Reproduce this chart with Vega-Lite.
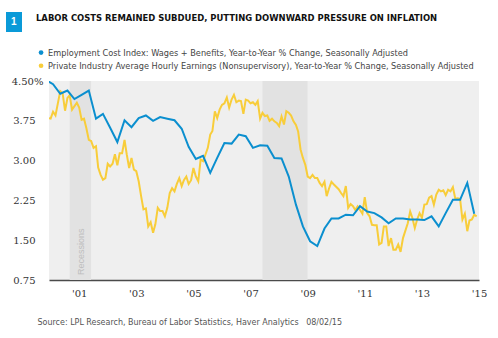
{
  "$schema": "https://vega.github.io/schema/vega-lite/v6.json",
  "width": 430,
  "height": 199,
  "autosize": "none",
  "padding": {"left": 49, "top": 81, "right": 19, "bottom": 58},
  "background": "white",
  "title": {
    "text": "LABOR COSTS REMAINED SUBDUED, PUTTING DOWNWARD PRESSURE ON INFLATION",
    "anchor": "start",
    "frame": "group",
    "orient": "top",
    "offset": 0,
    "dx": -13,
    "dy": 11,
    "font": "DejaVu Sans Condensed",
    "fontSize": 9.4,
    "fontWeight": "bold",
    "color": "#111111"
  },
  "datasets": {
    "eci": [
      {"date": "2000-05-01", "v": 4.52},
      {"date": "2000-08-01", "v": 4.44},
      {"date": "2000-11-01", "v": 4.26},
      {"date": "2001-02-01", "v": 4.32},
      {"date": "2001-05-01", "v": 4.16},
      {"date": "2001-08-01", "v": 4.24},
      {"date": "2001-11-01", "v": 4.32},
      {"date": "2002-02-01", "v": 3.79},
      {"date": "2002-05-01", "v": 3.88},
      {"date": "2002-08-01", "v": 3.62},
      {"date": "2002-11-01", "v": 3.35},
      {"date": "2003-02-01", "v": 3.76},
      {"date": "2003-05-01", "v": 3.63},
      {"date": "2003-08-01", "v": 3.80},
      {"date": "2003-11-01", "v": 3.85},
      {"date": "2004-02-01", "v": 3.75},
      {"date": "2004-05-01", "v": 3.82},
      {"date": "2004-08-01", "v": 3.79},
      {"date": "2004-11-01", "v": 3.76},
      {"date": "2005-02-01", "v": 3.60},
      {"date": "2005-05-01", "v": 3.26},
      {"date": "2005-08-01", "v": 3.03},
      {"date": "2005-11-01", "v": 3.09},
      {"date": "2006-02-01", "v": 2.77},
      {"date": "2006-05-01", "v": 3.05},
      {"date": "2006-08-01", "v": 3.33},
      {"date": "2006-11-01", "v": 3.32},
      {"date": "2007-02-01", "v": 3.49},
      {"date": "2007-05-01", "v": 3.46},
      {"date": "2007-08-01", "v": 3.24},
      {"date": "2007-11-01", "v": 3.29},
      {"date": "2008-02-01", "v": 3.28},
      {"date": "2008-05-01", "v": 3.05},
      {"date": "2008-08-01", "v": 3.04},
      {"date": "2008-11-01", "v": 2.70},
      {"date": "2009-02-01", "v": 2.17},
      {"date": "2009-05-01", "v": 1.76},
      {"date": "2009-08-01", "v": 1.48},
      {"date": "2009-11-01", "v": 1.39},
      {"date": "2010-02-01", "v": 1.72},
      {"date": "2010-05-01", "v": 1.91},
      {"date": "2010-08-01", "v": 1.91},
      {"date": "2010-11-01", "v": 1.98},
      {"date": "2011-02-01", "v": 1.97},
      {"date": "2011-05-01", "v": 2.14},
      {"date": "2011-08-01", "v": 2.04},
      {"date": "2011-11-01", "v": 2.01},
      {"date": "2012-02-01", "v": 1.93},
      {"date": "2012-05-01", "v": 1.82},
      {"date": "2012-08-01", "v": 1.91},
      {"date": "2012-11-01", "v": 1.91},
      {"date": "2013-02-01", "v": 1.89},
      {"date": "2013-05-01", "v": 1.89},
      {"date": "2013-08-01", "v": 1.88},
      {"date": "2013-11-01", "v": 1.95},
      {"date": "2014-02-01", "v": 1.76},
      {"date": "2014-05-01", "v": 2.01},
      {"date": "2014-08-01", "v": 2.26},
      {"date": "2014-11-01", "v": 2.26},
      {"date": "2015-02-01", "v": 2.58},
      {"date": "2015-05-01", "v": 2.00}
    ],
    "ahe": [
      {"date": "2000-06-01", "v": 3.80},
      {"date": "2000-07-01", "v": 3.79},
      {"date": "2000-08-01", "v": 3.92},
      {"date": "2000-09-01", "v": 3.85},
      {"date": "2000-11-01", "v": 4.31},
      {"date": "2000-12-01", "v": 4.27},
      {"date": "2001-01-01", "v": 3.94},
      {"date": "2001-02-01", "v": 4.18},
      {"date": "2001-03-01", "v": 4.23},
      {"date": "2001-04-01", "v": 3.96},
      {"date": "2001-06-01", "v": 4.09},
      {"date": "2001-07-01", "v": 4.00},
      {"date": "2001-08-01", "v": 3.77},
      {"date": "2001-09-01", "v": 3.79},
      {"date": "2001-10-01", "v": 3.61},
      {"date": "2001-11-01", "v": 3.39},
      {"date": "2001-12-01", "v": 3.37},
      {"date": "2002-01-01", "v": 3.24},
      {"date": "2002-02-01", "v": 3.27},
      {"date": "2002-03-01", "v": 2.87},
      {"date": "2002-04-01", "v": 2.73},
      {"date": "2002-05-01", "v": 2.64},
      {"date": "2002-06-01", "v": 2.67},
      {"date": "2002-07-01", "v": 2.94},
      {"date": "2002-08-01", "v": 2.89},
      {"date": "2002-09-01", "v": 2.94},
      {"date": "2002-10-01", "v": 3.12},
      {"date": "2002-11-01", "v": 2.91},
      {"date": "2002-12-01", "v": 3.14},
      {"date": "2003-01-01", "v": 3.14},
      {"date": "2003-02-01", "v": 3.39},
      {"date": "2003-03-01", "v": 3.12},
      {"date": "2003-04-01", "v": 2.86},
      {"date": "2003-05-01", "v": 3.05},
      {"date": "2003-06-01", "v": 2.83},
      {"date": "2003-07-01", "v": 2.80},
      {"date": "2003-08-01", "v": 2.61},
      {"date": "2003-09-01", "v": 2.33},
      {"date": "2003-10-01", "v": 2.08},
      {"date": "2003-11-01", "v": 2.10},
      {"date": "2003-12-01", "v": 1.76},
      {"date": "2004-01-01", "v": 1.84},
      {"date": "2004-02-01", "v": 1.64},
      {"date": "2004-03-01", "v": 1.80},
      {"date": "2004-04-01", "v": 2.11},
      {"date": "2004-05-01", "v": 2.05},
      {"date": "2004-06-01", "v": 2.05},
      {"date": "2004-07-01", "v": 1.95},
      {"date": "2004-08-01", "v": 2.11},
      {"date": "2004-09-01", "v": 2.39},
      {"date": "2004-10-01", "v": 2.48},
      {"date": "2004-11-01", "v": 2.42},
      {"date": "2004-12-01", "v": 2.56},
      {"date": "2005-01-01", "v": 2.67},
      {"date": "2005-02-01", "v": 2.52},
      {"date": "2005-03-01", "v": 2.63},
      {"date": "2005-04-01", "v": 2.70},
      {"date": "2005-05-01", "v": 2.56},
      {"date": "2005-06-01", "v": 2.63},
      {"date": "2005-07-01", "v": 2.86},
      {"date": "2005-08-01", "v": 2.70},
      {"date": "2005-09-01", "v": 2.61},
      {"date": "2005-10-01", "v": 3.02},
      {"date": "2005-11-01", "v": 2.99},
      {"date": "2005-12-01", "v": 3.11},
      {"date": "2006-01-01", "v": 3.24},
      {"date": "2006-02-01", "v": 3.49},
      {"date": "2006-03-01", "v": 3.56},
      {"date": "2006-04-01", "v": 3.93},
      {"date": "2006-05-01", "v": 3.80},
      {"date": "2006-06-01", "v": 3.96},
      {"date": "2006-07-01", "v": 4.05},
      {"date": "2006-08-01", "v": 4.08},
      {"date": "2006-09-01", "v": 4.19},
      {"date": "2006-10-01", "v": 4.00},
      {"date": "2006-11-01", "v": 4.15},
      {"date": "2006-12-01", "v": 4.24},
      {"date": "2007-01-01", "v": 4.10},
      {"date": "2007-02-01", "v": 4.13},
      {"date": "2007-03-01", "v": 4.12},
      {"date": "2007-04-01", "v": 3.88},
      {"date": "2007-05-01", "v": 4.15},
      {"date": "2007-06-01", "v": 4.13},
      {"date": "2007-07-01", "v": 4.08},
      {"date": "2007-08-01", "v": 4.10},
      {"date": "2007-09-01", "v": 4.05},
      {"date": "2007-10-01", "v": 4.12},
      {"date": "2007-11-01", "v": 3.79},
      {"date": "2007-12-01", "v": 3.90},
      {"date": "2008-01-01", "v": 3.84},
      {"date": "2008-02-01", "v": 3.85},
      {"date": "2008-03-01", "v": 3.75},
      {"date": "2008-04-01", "v": 3.79},
      {"date": "2008-05-01", "v": 3.74},
      {"date": "2008-06-01", "v": 3.71},
      {"date": "2008-07-01", "v": 3.65},
      {"date": "2008-08-01", "v": 3.83},
      {"date": "2008-09-01", "v": 3.68},
      {"date": "2008-10-01", "v": 3.93},
      {"date": "2008-11-01", "v": 3.90},
      {"date": "2008-12-01", "v": 3.85},
      {"date": "2009-01-01", "v": 3.74},
      {"date": "2009-02-01", "v": 3.67},
      {"date": "2009-03-01", "v": 3.55},
      {"date": "2009-04-01", "v": 3.21},
      {"date": "2009-05-01", "v": 3.05},
      {"date": "2009-06-01", "v": 2.92},
      {"date": "2009-07-01", "v": 2.70},
      {"date": "2009-08-01", "v": 2.67},
      {"date": "2009-09-01", "v": 2.73},
      {"date": "2009-10-01", "v": 2.67},
      {"date": "2009-11-01", "v": 2.67},
      {"date": "2009-12-01", "v": 2.58},
      {"date": "2010-01-01", "v": 2.52},
      {"date": "2010-02-01", "v": 2.60},
      {"date": "2010-03-01", "v": 2.33},
      {"date": "2010-04-01", "v": 2.48},
      {"date": "2010-05-01", "v": 2.60},
      {"date": "2010-06-01", "v": 2.55},
      {"date": "2010-08-01", "v": 2.46},
      {"date": "2010-09-01", "v": 2.39},
      {"date": "2010-10-01", "v": 2.33},
      {"date": "2010-11-01", "v": 2.52},
      {"date": "2010-12-01", "v": 2.11},
      {"date": "2011-01-01", "v": 2.18},
      {"date": "2011-02-01", "v": 2.14},
      {"date": "2011-03-01", "v": 2.07},
      {"date": "2011-04-01", "v": 2.14},
      {"date": "2011-06-01", "v": 2.00},
      {"date": "2011-07-01", "v": 2.31},
      {"date": "2011-08-01", "v": 2.01},
      {"date": "2011-09-01", "v": 1.95},
      {"date": "2011-10-01", "v": 1.79},
      {"date": "2011-11-01", "v": 1.78},
      {"date": "2011-12-01", "v": 1.78},
      {"date": "2012-01-01", "v": 1.42},
      {"date": "2012-02-01", "v": 1.45},
      {"date": "2012-03-01", "v": 1.76},
      {"date": "2012-04-01", "v": 1.76},
      {"date": "2012-05-01", "v": 1.39},
      {"date": "2012-06-01", "v": 1.54},
      {"date": "2012-07-01", "v": 1.32},
      {"date": "2012-08-01", "v": 1.32},
      {"date": "2012-09-01", "v": 1.42},
      {"date": "2012-10-01", "v": 1.28},
      {"date": "2012-11-01", "v": 1.54},
      {"date": "2013-01-01", "v": 1.82},
      {"date": "2013-02-01", "v": 2.04},
      {"date": "2013-03-01", "v": 1.92},
      {"date": "2013-04-01", "v": 1.73},
      {"date": "2013-05-01", "v": 1.89},
      {"date": "2013-06-01", "v": 2.01},
      {"date": "2013-07-01", "v": 1.92},
      {"date": "2013-08-01", "v": 2.17},
      {"date": "2013-09-01", "v": 2.18},
      {"date": "2013-10-01", "v": 2.30},
      {"date": "2013-11-01", "v": 2.33},
      {"date": "2013-12-01", "v": 2.17},
      {"date": "2014-01-01", "v": 2.36},
      {"date": "2014-02-01", "v": 2.45},
      {"date": "2014-03-01", "v": 2.42},
      {"date": "2014-04-01", "v": 2.44},
      {"date": "2014-05-01", "v": 2.35},
      {"date": "2014-06-01", "v": 2.45},
      {"date": "2014-07-01", "v": 2.42},
      {"date": "2014-08-01", "v": 2.50},
      {"date": "2014-09-01", "v": 2.28},
      {"date": "2014-10-01", "v": 2.29},
      {"date": "2014-11-01", "v": 2.28},
      {"date": "2014-12-01", "v": 1.89},
      {"date": "2015-01-01", "v": 2.00},
      {"date": "2015-02-01", "v": 1.67},
      {"date": "2015-03-01", "v": 1.87},
      {"date": "2015-04-01", "v": 1.89},
      {"date": "2015-05-01", "v": 1.98},
      {"date": "2015-06-01", "v": 1.95}
    ],
    "recessions": [
      {"start": "2001-03-01", "end": "2001-11-30", "label": "Recessions"},
      {"start": "2007-12-01", "end": "2009-06-30", "label": ""}
    ]
  },
  "layer": [
    {
      "data": {"name": "recessions"},
      "mark": {"type": "rect", "color": "#e2e2e2"},
      "encoding": {
        "x": {
          "field": "start",
          "type": "temporal",
          "scale": {
            "type": "utc",
            "domain": [
              {"year": 2000, "month": 6, "date": 10, "utc": true},
              {"year": 2015, "month": 7, "date": 1, "utc": true}
            ]
          },
          "axis": {
            "values": [
              {"year": 2001, "month": 7, "date": 1, "utc": true},
              {"year": 2003, "month": 7, "date": 1, "utc": true},
              {"year": 2005, "month": 7, "date": 1, "utc": true},
              {"year": 2007, "month": 7, "date": 1, "utc": true},
              {"year": 2009, "month": 7, "date": 1, "utc": true},
              {"year": 2011, "month": 7, "date": 1, "utc": true},
              {"year": 2013, "month": 7, "date": 1, "utc": true},
              {"year": 2015, "month": 7, "date": 1, "utc": true}
            ],
            "tickCount": 20,
            "format": "'%y",
            "labelFont": "DejaVu Serif",
            "labelFontSize": 10,
            "labelColor": "#333333",
            "labelPadding": 8,
            "labelFlush": false,
            "labelOverlap": false,
            "ticks": false,
            "tickSize": 0,
            "grid": false,
            "domainColor": "#4a4a4a",
            "domainWidth": 1.5,
            "title": "Source: LPL Research, Bureau of Labor Statistics, Haver Analytics\u00a0\u00a0\u00a008/02/15",
            "titleFont": "DejaVu Sans Condensed",
            "titleFontSize": 8.9,
            "titleFontWeight": "normal",
            "titleColor": "#555555",
            "titleAnchor": "start",
            "titleAlign": "left",
            "titleBaseline": "middle",
            "titleX": -12,
            "titleY": 41
          }
        },
        "x2": {"field": "end"},
        "opacity": {
          "datum": "1",
          "scale": {"range": [1]},
          "legend": {
            "title": "1",
            "orient": "none",
            "legendX": -43,
            "legendY": -69,
            "fillColor": "#0a9ad8",
            "padding": 5,
            "titleColor": "white",
            "titleFont": "Liberation Sans",
            "titleFontSize": 10,
            "titleFontWeight": "bold",
            "titlePadding": 0,
            "values": []
          }
        }
      }
    },
    {
      "data": {"name": "recessions"},
      "mark": {
        "type": "text",
        "angle": 270,
        "align": "left",
        "baseline": "middle",
        "dx": 5,
        "dy": 11,
        "font": "Liberation Sans",
        "fontSize": 9,
        "color": "#bdbdbd"
      },
      "encoding": {
        "x": {"field": "start", "type": "temporal"},
        "y": {"datum": 0.75},
        "text": {"field": "label"}
      }
    },
    {
      "data": {"name": "ahe"},
      "mark": {"type": "line", "strokeWidth": 2, "clip": true},
      "encoding": {
        "x": {"field": "date", "type": "temporal"},
        "y": {
          "field": "v",
          "type": "quantitative",
          "scale": {"domain": [0.75, 4.5], "nice": false, "zero": false},
          "axis": {
            "values": [0.75, 1.5, 2.25, 3, 3.75, 4.5],
            "tickCount": 20,
            "labelExpr": "datum.value == 4.5 ? '4.50%' : format(datum.value, '.2f')",
            "labelFont": "DejaVu Serif",
            "labelFontSize": 10,
            "labelColor": "#333333",
            "labelAlign": "right",
            "labelPadding": {"condition": {"test": "datum.value == 4.5", "value": 6}, "value": 14},
            "labelOverlap": false,
            "labelFlush": false,
            "ticks": false,
            "tickSize": 0,
            "domain": false,
            "grid": false,
            "title": null
          }
        },
        "color": {
          "datum": "Private Industry Average Hourly Earnings (Nonsupervisory), Year-to-Year % Change, Seasonally Adjusted",
          "scale": {
            "domain": [
              "Employment Cost Index: Wages + Benefits, Year-to-Year % Change, Seasonally Adjusted",
              "Private Industry Average Hourly Earnings (Nonsupervisory), Year-to-Year % Change, Seasonally Adjusted"
            ],
            "range": ["#0b8fcf", "#f8cd3a"]
          },
          "legend": {
            "title": null,
            "orient": "none",
            "legendX": -12.5,
            "legendY": -33,
            "padding": 0,
            "symbolType": "circle",
            "symbolSize": 22,
            "symbolStrokeWidth": 0,
            "labelFont": "DejaVu Sans Condensed",
            "labelFontSize": 9.1,
            "labelColor": "#444444",
            "labelOffset": 2.5,
            "labelLimit": 500,
            "rowPadding": 3.2,
            "encode": {
              "symbols": {
                "update": {
                  "fill": {"scale": "color", "field": "value"},
                  "stroke": {"value": "transparent"}
                }
              }
            }
          }
        }
      }
    },
    {
      "data": {"name": "eci"},
      "mark": {"type": "line", "strokeWidth": 2, "clip": true},
      "encoding": {
        "x": {"field": "date", "type": "temporal"},
        "y": {"field": "v", "type": "quantitative"},
        "color": {"datum": "Employment Cost Index: Wages + Benefits, Year-to-Year % Change, Seasonally Adjusted"}
      }
    }
  ],
  "config": {
    "view": {"stroke": null, "fill": "#efefef"},
    "font": "Liberation Sans",
    "axisY": {"labelOverlap": false},
    "axis": {"labelOverlap": false}
  }
}
